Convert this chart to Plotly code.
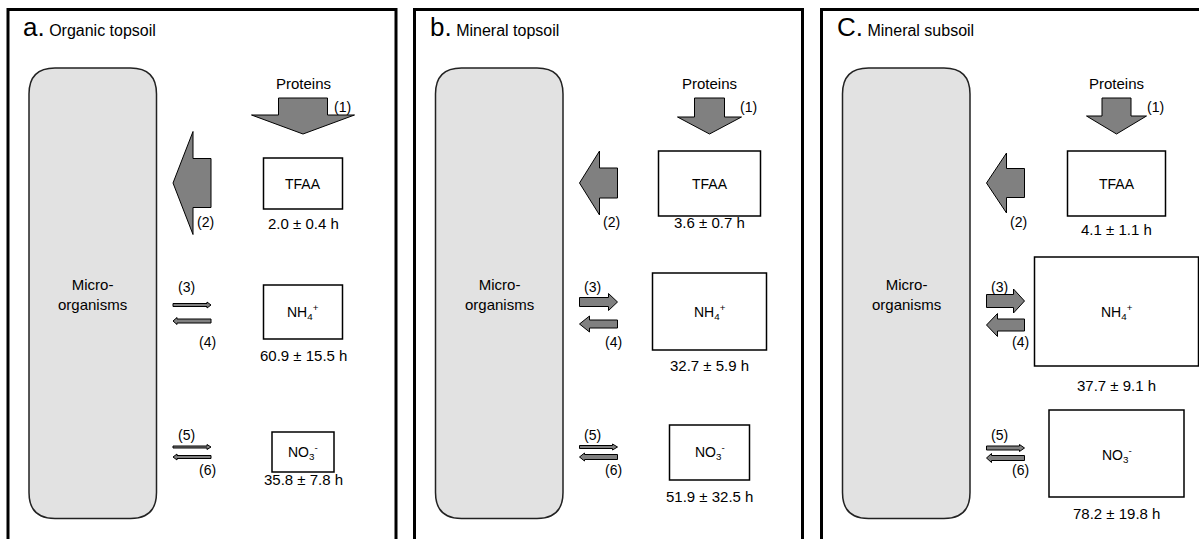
import plotly.graph_objects as go

# ---------------- data ----------------
panel_letters = ["a.", "b.", "C."]
panel_titles = ["Organic topsoil", "Mineral topsoil", "Mineral subsoil"]
pool_names = ["TFAA", "NH<sub>4</sub><sup>+</sup>", "NO<sub>3</sub><sup>-</sup>"]
tfaa_turnover = ["2.0 ± 0.4 h", "3.6 ± 0.7 h", "4.1 ± 1.1 h"]
nh4_turnover = ["60.9 ± 15.5 h", "32.7 ± 5.9 h", "37.7 ± 9.1 h"]
no3_turnover = ["35.8 ± 7.8 h", "51.9 ± 32.5 h", "78.2 ± 19.8 h"]
flux_labels = ["(1)", "(2)", "(3)", "(4)", "(5)", "(6)"]
source_label = "Proteins"
microbe_label = "Micro-<br>organisms"

# ---------------- geometry (pixels) ----------------
W, H = 1199, 539
panel_left = [8, 414.5, 821.5]
panel_right = [396, 802.5, 1215]
panel_top = 9.5
col = 295  # centre column offset of pools inside panel

# box half widths and top/bottom y for each pool in each panel
tfaa_box = [(39.5, 158, 209), (51, 151, 216), (49, 151, 216)]
nh4_box = [(39.5, 285, 339), (57, 273, 350), (82, 257, 366)]
no3_box = [(31, 432, 472), (40, 425, 480), (67.5, 410, 497)]
tfaa_lab_y = [223, 222, 229]
nh4_lab_y = [355, 365, 385]
no3_lab_y = [479, 496, 513]
no3_txt_y = [452, 452, 455]

# arrow (1) / (2): shaft half width, head half width
big_shaft = [24.5, 15, 14.5]
big_head = [51.5, 32, 30]
arrow1_headstart = [115, 117, 116]

# thin arrows 3..6: (centre y, shaft half, head half, head length)
arr3 = [(305, 1.5, 3, 4), (302, 4.5, 8.5, 9), (301, 6.5, 12, 11)]
arr4 = [(321, 2, 3.5, 4), (324, 4, 8, 10), (325, 6, 11.5, 11)]
arr5 = [(447, 1, 2.5, 4), (447, 1.5, 3, 5), (448, 2, 3.5, 5)]
arr6 = [(457, 1.5, 3, 4), (457, 2.5, 4, 5), (458, 2.5, 4.5, 5)]

ARROW_FILL = "#808080"
MICRO_FILL = "#e2e2e2"
FONT = "Liberation Sans, Arial, sans-serif"


def down_arrow(cx, top, head_y, tip, sw, hw):
    return (f"M {cx-sw},{top} L {cx+sw},{top} L {cx+sw},{head_y} L {cx+hw},{head_y} "
            f"L {cx},{tip} L {cx-hw},{head_y} L {cx-sw},{head_y} Z")


def h_arrow(x_tail, x_base, x_tip, cy, sw, hw):
    return (f"M {x_tail},{cy-sw} L {x_base},{cy-sw} L {x_base},{cy-hw} L {x_tip},{cy} "
            f"L {x_base},{cy+hw} L {x_base},{cy+sw} L {x_tail},{cy+sw} Z")


def round_rect(x0, y0, x1, y1, r):
    return (f"M {x0+r},{y0} L {x1-r},{y0} Q {x1},{y0} {x1},{y0+r} L {x1},{y1-r} "
            f"Q {x1},{y1} {x1-r},{y1} L {x0+r},{y1} Q {x0},{y1} {x0},{y1-r} "
            f"L {x0},{y0+r} Q {x0},{y0} {x0+r},{y0} Z")


shapes = []
annotations = []


def text(x, y, s, size=15, xanchor="center"):
    annotations.append(dict(x=x, y=y, text=s, showarrow=False, xanchor=xanchor,
                            yanchor="middle", font=dict(size=size, color="black", family=FONT)))


for i in range(3):
    L = panel_left[i]
    cx = L + col
    # panel frame
    shapes.append(dict(type="rect", x0=L, x1=panel_right[i], y0=panel_top, y1=560,
                       line=dict(color="black", width=3), fillcolor="rgba(0,0,0,0)"))
    # title
    annotations.append(dict(x=L + 13, y=27, xanchor="left", yanchor="middle", showarrow=False,
                            text=f"<span style='font-size:26px'>{panel_letters[i]}</span> {panel_titles[i]}",
                            font=dict(size=16, color="black", family=FONT)))
    # microorganisms
    shapes.append(dict(type="path", path=round_rect(L + 21, 68, L + 148.5, 518.5, 26),
                       fillcolor=MICRO_FILL, line=dict(color="#222222", width=1.5)))
    text(L + 84.5, 294, microbe_label, size=15)

    # proteins + arrow (1)
    text(cx, 83, source_label, size=15)
    shapes.append(dict(type="path",
                       path=down_arrow(cx, 98, arrow1_headstart[i], 134, big_shaft[i], big_head[i]),
                       fillcolor=ARROW_FILL, line=dict(color="black", width=1)))
    text(L + 334, 107, flux_labels[0], size=14)

    # arrow (2)
    shapes.append(dict(type="path",
                       path=h_arrow(L + 203, L + 185, L + 165, 183, big_shaft[i], big_head[i]),
                       fillcolor=ARROW_FILL, line=dict(color="black", width=1)))
    text(L + 197, 222, flux_labels[1], size=14)

    # arrows 3..6
    for spec, right in ((arr3[i], True), (arr4[i], False), (arr5[i], True), (arr6[i], False)):
        cy, sw, hw, hl = spec
        if right:
            p = h_arrow(L + 165, L + 203 - hl, L + 203, cy, sw, hw)
        else:
            p = h_arrow(L + 203, L + 165 + hl, L + 165, cy, sw, hw)
        shapes.append(dict(type="path", path=p, fillcolor=ARROW_FILL,
                           line=dict(color="black", width=1)))
    text(L + 178, 287, flux_labels[2], size=14)
    text(L + 199, 342, flux_labels[3], size=14)
    text(L + 178, 435, flux_labels[4], size=14)
    text(L + 199, 470, flux_labels[5], size=14)

    # pools
    for box, name, ty, lab, ly in ((tfaa_box[i], pool_names[0], 184, tfaa_turnover[i], tfaa_lab_y[i]),
                                   (nh4_box[i], pool_names[1], 312, nh4_turnover[i], nh4_lab_y[i]),
                                   (no3_box[i], pool_names[2], no3_txt_y[i], no3_turnover[i], no3_lab_y[i])):
        hwid, y0, y1 = box
        shapes.append(dict(type="rect", x0=cx - hwid, x1=cx + hwid, y0=y0, y1=y1,
                           line=dict(color="black", width=1.5), fillcolor="white"))
        text(cx, ty, name, size=14)
        text(cx, ly, lab, size=15)

fig = go.Figure()
fig.add_trace(go.Scatter(x=[0, W], y=[0, H], mode="markers", marker=dict(opacity=0),
                         hoverinfo="skip", showlegend=False))
fig.update_layout(
    width=W, height=H, margin=dict(l=0, r=0, t=0, b=0),
    paper_bgcolor="white", plot_bgcolor="white",
    xaxis=dict(range=[0, W], visible=False, fixedrange=True),
    yaxis=dict(range=[H, 0], visible=False, fixedrange=True),
    shapes=shapes, annotations=annotations, showlegend=False,
)
fig.write_html("out.html", config={"displayModeBar": False},
               post_script="document.body.style.margin='0px';document.body.style.overflow='hidden';")
